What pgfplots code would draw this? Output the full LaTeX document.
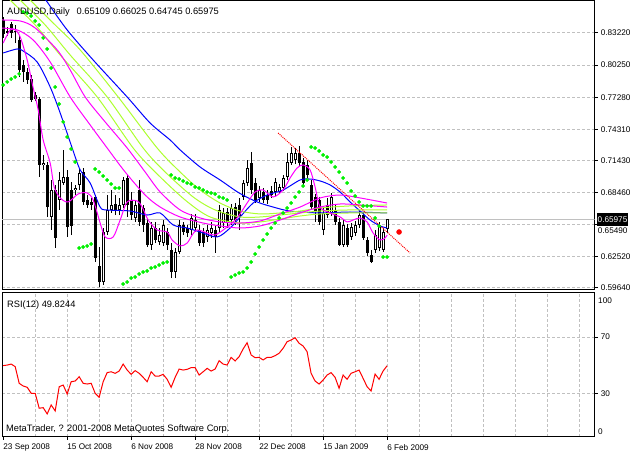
\documentclass[border=0pt]{standalone}
\usepackage{fontspec}
\setmainfont{Liberation Sans}
\usepackage{pgfplots}
\pgfplotsset{compat=1.18}
\usepackage{pgfplotstable}
\definecolor{gridgray}{RGB}{192,192,192}
\definecolor{mablue}{RGB}{0,0,255}
\definecolor{mamag}{RGB}{255,0,255}
\definecolor{mayel}{RGB}{173,255,47}
\definecolor{sargreen}{RGB}{0,240,0}

\pgfplotstableread{
i o h l c
0 0.8442 0.8470 0.8276 0.8313
1 0.8340 0.8377 0.8294 0.8322
2 0.8405 0.8424 0.8276 0.8322
3 0.8340 0.8396 0.8229 0.8331
4 0.8257 0.8294 0.7915 0.7980
5 0.8026 0.8072 0.7869 0.7961
6 0.7961 0.7998 0.7850 0.7887
7 0.7896 0.7933 0.7684 0.7702
8 0.7748 0.7776 0.7693 0.7711
9 0.7711 0.7730 0.6990 0.7101
10 0.7101 0.7193 0.7055 0.7119
11 0.7101 0.7129 0.6620 0.6712
12 0.6620 0.6962 0.6500 0.6870
13 0.6870 0.6916 0.6333 0.6426
14 0.6777 0.7036 0.6685 0.6962
15 0.6934 0.7240 0.6916 0.6990
16 0.6990 0.7055 0.6435 0.6527
17 0.6870 0.6944 0.6453 0.6537
18 0.6870 0.6916 0.6823 0.6888
19 0.6916 0.7073 0.6870 0.7027
20 0.7036 0.7073 0.6731 0.6759
21 0.6777 0.6823 0.6703 0.6731
22 0.6759 0.6796 0.6685 0.6731
23 0.6805 0.6823 0.6204 0.6241
24 0.6167 0.6342 0.5972 0.6018
25 0.6018 0.6518 0.5991 0.6481
26 0.6481 0.6823 0.6453 0.6685
27 0.6685 0.6870 0.6657 0.6731
28 0.6740 0.6823 0.6638 0.6685
29 0.6685 0.6796 0.6638 0.6731
30 0.6731 0.6990 0.6703 0.6962
31 0.6981 0.7008 0.6620 0.6731
32 0.6777 0.6851 0.6592 0.6638
33 0.6611 0.6777 0.6574 0.6731
34 0.6870 0.6962 0.6537 0.6574
35 0.6703 0.6731 0.6481 0.6546
36 0.6564 0.6611 0.6342 0.6361
37 0.6361 0.6574 0.6315 0.6518
38 0.6518 0.6574 0.6379 0.6407
39 0.6389 0.6518 0.6361 0.6453
40 0.6379 0.6592 0.6352 0.6546
41 0.6481 0.6518 0.6315 0.6361
42 0.6315 0.6379 0.6055 0.6111
43 0.6111 0.6333 0.6055 0.6296
44 0.6296 0.6592 0.6278 0.6546
45 0.6546 0.6574 0.6453 0.6481
46 0.6518 0.6546 0.6435 0.6472
47 0.6500 0.6648 0.6453 0.6611
48 0.6518 0.6648 0.6481 0.6592
49 0.6500 0.6546 0.6352 0.6379
50 0.6481 0.6518 0.6342 0.6379
51 0.6435 0.6546 0.6389 0.6500
52 0.6472 0.6574 0.6426 0.6518
53 0.6500 0.6537 0.6287 0.6435
54 0.6518 0.6731 0.6481 0.6685
55 0.6564 0.6703 0.6518 0.6657
56 0.6666 0.6703 0.6518 0.6564
57 0.6592 0.6740 0.6546 0.6703
58 0.6712 0.6749 0.6546 0.6592
59 0.6731 0.6796 0.6500 0.6620
60 0.6805 0.6962 0.6777 0.6934
61 0.6934 0.7147 0.6907 0.7073
62 0.7119 0.7221 0.6833 0.6870
63 0.6934 0.6981 0.6749 0.6777
64 0.6796 0.6907 0.6759 0.6870
65 0.6851 0.6888 0.6749 0.6777
66 0.6823 0.6870 0.6740 0.6777
67 0.6860 0.6907 0.6796 0.6823
68 0.6851 0.6981 0.6814 0.6944
69 0.6851 0.6925 0.6833 0.6897
70 0.6888 0.7008 0.6860 0.6981
71 0.6990 0.7212 0.6962 0.7129
72 0.7119 0.7267 0.7101 0.7212
73 0.7147 0.7258 0.7110 0.7212
74 0.7212 0.7277 0.7092 0.7119
75 0.7129 0.7166 0.6916 0.6934
76 0.7101 0.7147 0.6981 0.7008
77 0.6916 0.6962 0.6685 0.6712
78 0.6805 0.6833 0.6574 0.6666
79 0.6777 0.6805 0.6546 0.6574
80 0.6500 0.6703 0.6453 0.6657
81 0.6731 0.6796 0.6611 0.6638
82 0.6657 0.6842 0.6629 0.6805
83 0.6685 0.6731 0.6546 0.6574
84 0.6574 0.6611 0.6352 0.6361
85 0.6361 0.6592 0.6342 0.6546
86 0.6518 0.6555 0.6342 0.6361
87 0.6435 0.6564 0.6407 0.6527
88 0.6472 0.6583 0.6444 0.6546
89 0.6546 0.6685 0.6518 0.6638
90 0.6638 0.6666 0.6407 0.6426
91 0.6407 0.6435 0.6259 0.6287
92 0.6268 0.6315 0.6194 0.6204
93 0.6315 0.6500 0.6287 0.6453
94 0.6333 0.6574 0.6305 0.6546
95 0.6315 0.6518 0.6296 0.6481
96 0.65109 0.66025 0.64745 0.65975
}\candles

\pgfplotstableread{
i p
0 0.7841
1 0.7869
2 0.7896
3 0.7915
4 0.7943
5 0.8516
6 0.8507
7 0.8479
8 0.8433
9 0.8396
10 0.8276
11 0.8174
12 0.7998
13 0.7822
14 0.7665
15 0.7499
16 0.7360
17 0.7249
18 0.7129
19 0.6333
20 0.6342
21 0.6352
22 0.6370
23 0.7064
24 0.7036
25 0.6999
26 0.6962
27 0.6925
28 0.6888
29 0.6888
30 0.6000
31 0.6018
32 0.6055
33 0.6065
34 0.6093
35 0.6111
36 0.6120
37 0.6148
38 0.6157
39 0.6176
40 0.6194
41 0.6204
42 0.7008
43 0.6981
44 0.6971
45 0.6953
46 0.6934
47 0.6925
48 0.6897
49 0.6888
50 0.6870
51 0.6851
52 0.6842
53 0.6833
54 0.6805
55 0.6796
56 0.6777
57 0.6065
58 0.6083
59 0.6102
60 0.6111
61 0.6148
62 0.6204
63 0.6278
64 0.6342
65 0.6407
66 0.6463
67 0.6518
68 0.6564
69 0.6611
70 0.6657
71 0.6703
72 0.6749
73 0.6805
74 0.6851
75 0.6907
76 0.6962
77 0.7267
78 0.7258
79 0.7230
80 0.7193
81 0.7175
82 0.7129
83 0.7082
84 0.7036
85 0.6981
86 0.6934
87 0.6860
88 0.6814
89 0.6759
90 0.6722
91 0.6722
92 0.6722
93 0.6611
94 0.6537
95 0.6250
96 0.6250
}\sar

\pgfplotstableread{
i v
0 49.9
1 50.3
2 51.0
3 49.2
4 37.5
5 35.6
6 34.7
7 30.5
8 30.5
9 20.0
10 20.4
11 16.0
12 22.3
13 18.1
14 35.1
15 36.3
16 30.0
17 38.6
18 39.1
19 42.1
20 37.5
21 37.0
22 37.5
23 30.5
24 27.7
25 38.6
26 45.0
27 45.6
28 44.5
29 46.1
30 51.0
31 46.8
32 43.8
33 46.4
34 44.5
35 41.7
36 38.6
37 45.6
38 42.6
39 42.6
40 43.8
41 40.3
42 34.7
43 41.7
44 47.5
45 46.8
46 47.3
47 48.5
48 48.5
49 43.3
50 45.6
51 48.0
52 46.1
53 47.5
54 53.4
55 51.0
56 50.3
57 55.7
58 53.2
59 56.2
60 61.6
61 66.0
62 57.4
63 55.5
64 55.7
65 53.9
66 55.7
67 55.7
68 56.9
69 58.6
70 62.1
71 66.7
72 67.9
73 69.5
74 65.6
75 63.7
76 59.7
77 44.5
78 39.1
79 37.0
80 39.8
81 43.3
82 45.0
83 41.7
84 34.0
85 43.3
86 40.3
87 44.5
88 45.6
89 46.8
90 41.0
91 35.1
92 32.1
93 44.0
94 40.3
95 46.1
96 49.8
}\rsi

\begin{document}
\begin{tikzpicture}
\path[use as bounding box] (0pt,0pt) rectangle (632pt,-454pt);

\begin{axis}[
  at={(2.2pt,-0.5pt)}, anchor=north west,
  scale only axis, width=592.4pt, height=289.5pt,
  xmin=-0.25, xmax=147.9, ymin=0.59445, ymax=0.86224,
  axis line style={black, line width=1pt},
  xtick=\empty,
  minor xtick={8,16,...,144},
  xminorgrids=true,
  minor tick length=0pt,
  ytick={0.5964,0.6252,0.6549,0.6846,0.7143,0.7431,0.7728,0.8025,0.8322},
  yticklabels={0.59640,0.62520,{},0.68460,0.71430,0.74310,0.77280,0.80250,0.83220},
  ymajorgrids=true,
  ytick pos=right, yticklabel pos=right, ytick align=outside,
  major tick length=3pt,
  every tick/.style={black, line width=1pt},
  yticklabel style={anchor=west, inner sep=0pt, xshift=3pt, font=\fontsize{8.2}{10}\selectfont},
  major grid style={gridgray, dash pattern=on 3pt off 2pt, line width=1pt},
  minor grid style={gridgray, dash pattern=on 3pt off 2pt, line width=1pt},
]
% current price line
\addplot[gridgray, line width=1pt] coordinates {(-0.25,0.65975) (147.9,0.65975)};

% candle wicks
\addplot[draw=none, mark=none, error bars/.cd, y dir=plus, y explicit, error mark=none,
  error bar style={draw=black, line width=1pt}]
  table[x=i, y=l, y error plus expr={\thisrow{h}-\thisrow{l}}] {\candles};
% candle bodies
\addplot[draw=none, mark=none, error bars/.cd, y dir=plus, y explicit, error mark=none,
  error bar style={draw=black, line width=3pt}]
  table[x=i, y expr={min(\thisrow{o},\thisrow{c})}, y error plus expr={abs(\thisrow{c}-\thisrow{o})}] {\candles};
% white interiors
\addplot[draw=none, mark=none, restrict expr to domain={\thisrow{c}-\thisrow{o}}{0.0015:1},
  error bars/.cd, y dir=plus, y explicit, error mark=none,
  error bar style={draw=white, line width=1pt, shorten <=1pt, shorten >=1pt}]
  table[x=i, y=o, y error plus expr={\thisrow{c}-\thisrow{o}}] {\candles};

% slow blue MA
\addplot[mablue, line width=1pt, smooth] coordinates {
(8,0.8997) (10,0.8673) (11,0.8609) (16,0.8350) (22.5,0.8072) (31,0.7730) (36.75,0.7489)
(41.75,0.7332) (44.25,0.7240) (49.25,0.7082) (54.25,0.6962) (59,0.6842) (63.5,0.6759)
(67.5,0.6712) (71.75,0.6675) (79.25,0.6657) (86.75,0.6666) (96,0.6657)};
% fast blue MA
\addplot[mablue, line width=1pt, smooth] coordinates {
(0,0.8137) (3.5,0.8174) (5,0.8155) (8.5,0.8053) (11.75,0.7822) (14.25,0.7582) (17.25,0.7258)
(19.25,0.7055) (21.75,0.6934) (24.25,0.6712) (26,0.6685) (31.75,0.6675) (36,0.6638)
(39.25,0.6657) (42.5,0.6546) (46,0.6518) (49.25,0.6481) (53.5,0.6435) (56.75,0.6518)
(59.25,0.6620) (62.5,0.6749) (66,0.6823) (70,0.6870) (74.25,0.6962) (76.75,0.6971)
(79.25,0.6953) (81.75,0.6916) (84.25,0.6851) (86.75,0.6759) (89.25,0.6675) (91.75,0.6592)
(94.25,0.6537) (96,0.6518)};
% yellow MAs
\addplot[mayel, line width=1pt, smooth] coordinates {
(4.25,0.8738) (6.75,0.8627) (13,0.8396) (19.25,0.8165) (28.75,0.7730) (38.5,0.7258)
(44.25,0.7036) (49.25,0.6870) (54.25,0.6749) (59.25,0.6675) (64.25,0.6648) (69.25,0.6657)
(74.25,0.6675) (79.25,0.6703) (86.75,0.6722) (96,0.6731)};
\addplot[mayel, line width=1pt, smooth] coordinates {
(1.75,0.8738) (4.25,0.8627) (10.5,0.8396) (16.75,0.8118) (26,0.7730) (35,0.7258)
(40.5,0.7036) (47.5,0.6805) (53,0.6685) (59.25,0.6620) (64.25,0.6620) (69.25,0.6638)
(74.25,0.6657) (79.25,0.6675) (86.75,0.6685) (96,0.6685)};
\addplot[mayel, line width=1pt, smooth] coordinates {
(-0.75,0.8738) (1.75,0.8627) (8,0.8396) (14.25,0.8118) (23.5,0.7730) (32.5,0.7258)
(38,0.7036) (45.5,0.6777) (51.75,0.6620) (59.25,0.6564) (64.25,0.6574) (69.25,0.6601)
(74.25,0.6629) (79.25,0.6648) (86.75,0.6657) (96,0.6657)};
% magenta MAs
\addplot[mamag, line width=1pt, smooth] coordinates {
(-0.75,0.8442) (4.25,0.8433) (8,0.8368) (13.5,0.8165) (16.75,0.7980) (20.5,0.7730)
(25.5,0.7499) (31,0.7258) (35.5,0.7036) (39.25,0.6851) (44.25,0.6685) (49.25,0.6611)
(54.25,0.6574) (59.25,0.6564) (64.25,0.6583) (69.25,0.6648) (74.25,0.6712) (79.25,0.6796)
(84.25,0.6823) (89.25,0.6796) (96,0.6749)};
\addplot[mamag, line width=1pt, smooth] coordinates {
(-0.75,0.8368) (3.5,0.8350) (7.5,0.8257) (11.75,0.8054) (16.75,0.7730) (21.75,0.7471)
(26,0.7258) (30.5,0.7036) (35.5,0.6823) (39.25,0.6712) (44.25,0.6620) (50,0.6564)
(54.25,0.6537) (59.25,0.6518) (64.25,0.6537) (69.25,0.6592) (74.25,0.6657) (79.25,0.6712)
(84.25,0.6740) (89.25,0.6731) (96,0.6712)};
\addplot[mamag, line width=1pt, smooth] coordinates {
(0,0.8229) (1.75,0.8350) (3,0.8350) (4.25,0.8285) (6,0.8072) (7.5,0.7813) (8.75,0.7610)
(10,0.7332) (11.75,0.7119) (12.75,0.6897) (14.25,0.6796) (16.25,0.6759) (18.75,0.6833)
(21,0.6842) (22.5,0.6777) (24.25,0.6564) (25.5,0.6435) (27.5,0.6435) (29.25,0.6592)
(31,0.6759) (33.5,0.6768) (34.75,0.6712) (36.25,0.6592) (38.5,0.6500) (41,0.6481)
(42.25,0.6407) (44.25,0.6352) (46,0.6379) (47.25,0.6453) (48.5,0.6500) (51,0.6472)
(53,0.6453) (56,0.6527) (58.5,0.6611) (61,0.6749) (63,0.6851) (65,0.6870) (67.5,0.6805)
(70,0.6870) (71.75,0.6981) (73.5,0.7073) (75,0.7101) (76.75,0.7055) (78,0.6897)
(79.25,0.6712) (81.75,0.6657) (84.25,0.6620) (86,0.6574) (87.5,0.6592) (89.25,0.6611)
(91,0.6574) (92.5,0.6472) (94.25,0.6407) (95.5,0.6426) (96,0.6453)};

% parabolic SAR
\addplot[only marks, mark=*, mark size=1.7pt, sargreen, mark options={draw=sargreen, fill=sargreen}]
  table[x=i, y=p] {\sar};

% trend line
\addplot[red, line width=1pt, dash pattern=on 1pt off 1pt] coordinates {(68.75,0.7397) (101.75,0.6287)};
% red dot
\addplot[only marks, mark=*, mark size=2.5pt, red] coordinates {(99,0.6481)};
\end{axis}

\begin{axis}[
  at={(2.2pt,-293pt)}, anchor=north west,
  scale only axis, width=592.4pt, height=144pt,
  xmin=-0.25, xmax=147.9, ymin=-0.2, ymax=100.9,
  axis line style={black, line width=1pt},
  xtick={0,16,32,48,64,80,96},
  xticklabels={23 Sep 2008,15 Oct 2008,6 Nov 2008,28 Nov 2008,22 Dec 2008,15 Jan 2009,6 Feb 2009},
  xtick pos=bottom, xtick align=outside,
  minor xtick={8,16,...,144},
  xminorgrids=true,
  minor tick length=0pt,
  ytick={30,70}, yticklabels={30,70},
  ymajorgrids=true,
  ytick pos=right, yticklabel pos=right, ytick align=outside,
  major tick length=3pt,
  every tick/.style={black, line width=1pt},
  xticklabel style={anchor=north west, inner sep=0pt, yshift=-4pt, font=\fontsize{8.2}{10}\selectfont},
  yticklabel style={anchor=west, inner sep=0pt, xshift=3pt, font=\fontsize{8.2}{10}\selectfont},
  major grid style={gridgray, dash pattern=on 3pt off 2pt, line width=1pt},
  minor grid style={gridgray, dash pattern=on 3pt off 2pt, line width=1pt},
]
\addplot[red, line width=1pt] table[x=i, y=v] {\rsi};
\end{axis}

\node[anchor=base west, inner sep=0pt, font=\fontsize{9.3}{11}\selectfont] at (7pt,-15pt)
  {AUDUSD,Daily\hspace{7pt}0.65109 0.66025 0.64745 0.65975};
\node[anchor=base west, inner sep=0pt, font=\fontsize{9.3}{11}\selectfont] at (7pt,-307.3pt)
  {RSI(12) 49.8244};
\node[anchor=base west, inner sep=0pt, font=\fontsize{9.3}{11}\selectfont] at (6pt,-431.5pt)
  {MetaTrader, ? 2001-2008 MetaQuotes Software Corp.};
\node[anchor=base west, inner sep=0pt, font=\fontsize{8.2}{10}\selectfont] at (598pt,-303.5pt) {100};
\node[anchor=base west, inner sep=0pt, font=\fontsize{8.2}{10}\selectfont] at (598pt,-434pt) {0};
\node[anchor=west, inner sep=0pt, font=\fontsize{8.2}{10}\selectfont] at (597.7pt,-231pt) {0.65490};
\node[anchor=west, fill=black, text=white, inner xsep=1pt, inner ysep=0pt, minimum height=13pt,
  font=\fontsize{8.2}{10}\selectfont] at (596.5pt,-220pt) {0.65975};
\end{tikzpicture}
\end{document}
